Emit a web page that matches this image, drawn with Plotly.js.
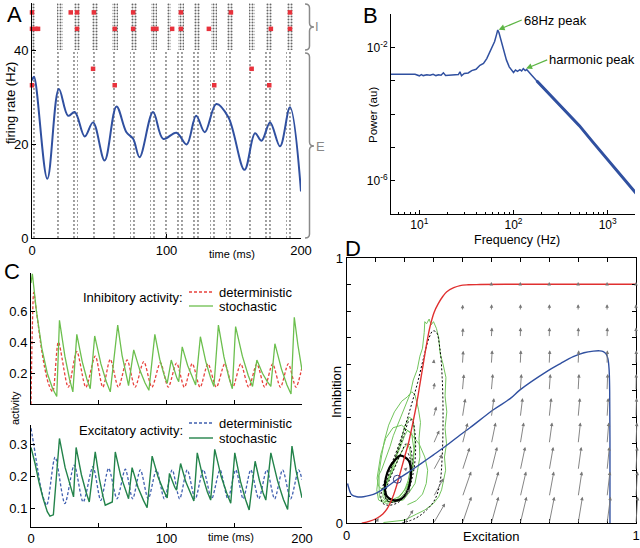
<!DOCTYPE html>
<html><head><meta charset="utf-8">
<script src="https://cdn.plot.ly/plotly-3.0.1.min.js"></script>
<style>html,body{margin:0;padding:0;background:#fff;}#chart{width:640px;height:548px;}</style>
</head><body><div id="chart"></div>
<script>
// ---------------- Panel A data ----------------
const rateTime = [0, 1.5, 11.4, 20, 26.8, 31.8, 39.2, 45.4, 54, 62.8, 70.2, 75.2, 80, 90, 97.5, 107.4, 115, 122, 128.5, 137, 146, 158, 165.8, 170.7, 177, 184.4, 191.8, 200];
const rateHz   = [33.5, 34.3, 12.6, 31.7, 26, 26.8, 21.6, 24.6, 16.5, 28, 22.5, 21.1, 17.2, 26.8, 21.1, 22.4, 19.9, 26, 22.5, 28.5, 25.7, 14.5, 22.3, 20.7, 24.6, 19.5, 27.8, 9.9];
const burstTimeE  = [1, 19.5, 32.5, 45.5, 61, 74.5, 89.5, 100.5, 110, 122, 134, 146.5, 162.5, 175.5, 191];
const burstWidthE = [2, 4, 4, 4, 4, 4, 4, 3, 4, 4, 4, 4, 4, 4, 4];
const burstTimeI  = [1, 20.5, 33.5, 46.5, 62, 75.5, 90.5, 101.5, 111, 123, 135, 147.5, 163.5, 176.5, 192];
const burstWidthI = [2.5, 4.5, 4.5, 4.5, 4.5, 4.5, 4.5, 3, 4.5, 4.5, 4.5, 4.5, 4.5, 4.5, 4.5];
const bandE = [0, 40];
const bandI = [40, 50];
const redSpikeTime = [0, 28.8, 33.5, 46, 75.2, 110.7, 147.9, 191.8,
                      0, 2.5, 4.5, 33.5, 61.5, 75.2, 90, 92.5, 104.2, 110.7, 131.5, 177.6, 191.8,
                      45.4, 163.3, 0, 61.5, 135.5, 176.4];
const redSpikeRate = [48, 48, 48, 48, 48, 48, 48, 48,
                      44.5, 44.5, 44.5, 44.5, 44.5, 44.5, 44.5, 44.5, 44.5, 44.5, 44.5, 44.5, 44.5,
                      36, 36, 32.5, 32.5, 32.5, 32.5];

// ---------------- Panel B data ----------------
const specFreq  = [5, 6, 7, 8, 9, 10, 10.5, 11, 12, 13, 14, 15, 16, 17, 18, 19, 20, 22, 24, 26, 27, 28, 30, 33, 36, 40, 44, 48, 52, 56, 60, 63, 66, 68, 70, 74, 78, 84, 90, 95, 100, 105, 110, 117, 122, 127, 133, 138, 145, 156, 176, 250, 350, 500, 700, 1000, 1400, 2000];
const specPower = [1.55e-3, 1.55e-3, 1.54e-3, 1.50e-3, 1.56e-3, 1.40e-3, 1.52e-3, 1.42e-3, 1.50e-3, 1.45e-3, 1.55e-3, 1.42e-3, 1.50e-3, 1.46e-3, 1.72e-3, 1.44e-3, 1.45e-3, 1.50e-3, 1.48e-3, 1.52e-3, 1.85e-3, 1.40e-3, 1.65e-3, 1.70e-3, 2.0e-3, 2.2e-3, 2.9e-3, 3.3e-3, 4.6e-3, 7.0e-3, 1.1e-2, 1.5e-2, 2.4e-2, 3.3e-2, 2.8e-2, 1.5e-2, 8.5e-3, 4.2e-3, 2.6e-3, 2.1e-3, 1.75e-3, 2.1e-3, 1.9e-3, 2.15e-3, 1.95e-3, 2.3e-3, 2.0e-3, 2.15e-3, 1.8e-3, 1.45e-3, 1.0e-3, 3.55e-4, 1.26e-4, 4.47e-5, 1.41e-5, 4.17e-6, 1.38e-6, 4.17e-7];

// ---------------- Panel C data ----------------
const inhStochT = [0, 1, 4, 8, 12, 16, 19, 21, 25, 28.4, 30.9, 33.8, 37.8, 41.2, 43.7, 47, 51.6, 55.6, 58.5, 64, 67.2, 70, 72, 75.8, 80.3, 84.2, 87, 91.4, 95, 98.2, 100.5, 103.5, 105.7, 107.6, 109, 111.6, 115.6, 119, 121.5, 125, 129, 132.5, 135, 138.3, 142.4, 146, 148.6, 151, 156, 160.4, 163.5, 166.7, 170.8, 174.4, 177, 180, 184.8, 188.9, 191.9, 194.3, 197, 200];
const inhStochV = [0.78, 0.84, 0.6, 0.36, 0.2, 0.1, 0.05, 0.54, 0.31, 0.163, 0.08, 0.45, 0.275, 0.163, 0.10, 0.44, 0.26, 0.145, 0.08, 0.51, 0.315, 0.19, 0.12, 0.35, 0.22, 0.137, 0.09, 0.45, 0.29, 0.19, 0.135, 0.285, 0.215, 0.17, 0.145, 0.37, 0.25, 0.17, 0.125, 0.435, 0.275, 0.173, 0.115, 0.51, 0.305, 0.174, 0.10, 0.50, 0.31, 0.184, 0.115, 0.285, 0.20, 0.146, 0.115, 0.39, 0.228, 0.124, 0.066, 0.56, 0.38, 0.22];
const inhDetT = [0, 1, 2, 4, 7, 10, 13, 16, 20.2, 27.5, 33.8, 40.5, 47.4, 53, 58.5, 64.5, 70.9, 76.8, 83.2, 89.2, 95.5, 101.3, 107.4, 113.2, 119, 124.8, 130.6, 136.8, 143, 148.9, 154.8, 160.7, 166.7, 172.5, 178.3, 184.1, 189.9, 195.5, 200];
const inhDetV = [0, 0.5, 0.72, 0.6, 0.4, 0.24, 0.13, 0.08, 0.40, 0.11, 0.34, 0.11, 0.31, 0.11, 0.29, 0.11, 0.285, 0.11, 0.275, 0.11, 0.268, 0.11, 0.265, 0.11, 0.262, 0.11, 0.26, 0.11, 0.26, 0.11, 0.26, 0.11, 0.26, 0.11, 0.26, 0.11, 0.26, 0.11, 0.24];
const excStochT = [0, 3, 6, 9, 12, 14, 16.5, 21, 25.2, 28.8, 31.4, 33.3, 37.2, 40.6, 43, 47.4, 50.4, 53, 54.8, 60, 62.2, 66.1, 69.6, 72, 74.6, 79, 83, 85.7, 89.4, 93.8, 97.7, 100.5, 102.2, 104.3, 106.1, 107.4, 110.4, 114.3, 117.8, 120.2, 122.7, 126.7, 130.1, 132.6, 135.6, 140.3, 144.5, 147.4, 150.4, 154.6, 158.4, 161, 165.4, 168.6, 171.3, 173.3, 177, 182, 186.3, 189.4, 192.6, 195.5, 200];
const excStochV = [0.29, 0.24, 0.18, 0.13, 0.09, 0.076, 0.08, 0.318, 0.227, 0.169, 0.136, 0.29, 0.205, 0.151, 0.12, 0.276, 0.193, 0.14, 0.11, 0.12, 0.276, 0.203, 0.156, 0.13, 0.227, 0.165, 0.125, 0.102, 0.263, 0.198, 0.157, 0.133, 0.209, 0.183, 0.166, 0.157, 0.24, 0.182, 0.144, 0.123, 0.273, 0.20, 0.152, 0.126, 0.284, 0.20, 0.147, 0.116, 0.273, 0.184, 0.127, 0.095, 0.247, 0.187, 0.148, 0.126, 0.273, 0.185, 0.128, 0.097, 0.294, 0.22, 0.133];
const excDetT = [0, 2, 5, 8, 11.6, 17.8, 25, 31.9, 38.5, 45.7, 51.5, 57.3, 63.5, 69.6, 75, 80.7, 86.5, 92.6, 98.4, 104.2, 109.7, 115.3, 121.2, 127.2, 133.3, 139.5, 145.3, 151.1, 156.6, 162.2, 168.1, 174, 179.8, 185.7, 191.6, 197.5, 200];
const excDetV = [0.35, 0.3, 0.22, 0.15, 0.11, 0.26, 0.115, 0.235, 0.12, 0.23, 0.125, 0.225, 0.13, 0.222, 0.13, 0.22, 0.13, 0.22, 0.13, 0.22, 0.13, 0.22, 0.13, 0.22, 0.13, 0.22, 0.13, 0.22, 0.13, 0.22, 0.13, 0.22, 0.13, 0.22, 0.13, 0.22, 0.19];

// ---------------- Panel D data ----------------
const redNullX = [0.052, 0.08, 0.104, 0.125, 0.14, 0.152, 0.163, 0.172, 0.18, 0.19, 0.2, 0.213, 0.228, 0.242, 0.254, 0.265, 0.277, 0.288, 0.302, 0.317, 0.332, 0.346, 0.37, 0.392, 0.42, 0.461, 0.55, 1.0];
const redNullY = [0.0, 0.008, 0.019, 0.035, 0.055, 0.08, 0.11, 0.14, 0.17, 0.21, 0.25, 0.30, 0.375, 0.452, 0.53, 0.603, 0.68, 0.741, 0.795, 0.829, 0.855, 0.873, 0.888, 0.896, 0.899, 0.9, 0.901, 0.901];
const blueNullX = [0.003, 0.008, 0.017, 0.035, 0.058, 0.08, 0.104, 0.14, 0.175, 0.21, 0.253, 0.3, 0.346, 0.392, 0.426, 0.507, 0.565, 0.599, 0.691, 0.74, 0.783, 0.82, 0.853, 0.875, 0.887, 0.897, 0.903, 0.907, 0.909, 0.91, 0.91];
const blueNullY = [0.15, 0.13, 0.108, 0.1, 0.1, 0.105, 0.115, 0.138, 0.166, 0.19, 0.222, 0.258, 0.294, 0.333, 0.36, 0.428, 0.47, 0.503, 0.572, 0.603, 0.628, 0.643, 0.649, 0.65, 0.647, 0.638, 0.62, 0.58, 0.5, 0.3, 0.0];
const gridX = [0.1, 0.2, 0.3, 0.4, 0.5, 0.6, 0.7, 0.8, 0.9, 1.0];
const gridY = [0, 0.1, 0.2, 0.3, 0.4, 0.5, 0.6, 0.7, 0.8, 0.9];
const fieldU = [
  [0.01, 0.03, 0.04, 0.031, 0.025, 0.022, 0.018, 0.015, 0.012, 0.006],
  [0.005, 0.02, 0.035, 0.03, 0.025, 0.02, 0.016, 0.013, 0.01, 0.005],
  [0.0, 0.01, 0.03, 0.025, 0.02, 0.017, 0.014, 0.011, 0.008, 0.004],
  [0.0, 0.0, 0.02, 0.018, 0.015, 0.012, 0.01, 0.008, 0.006, 0.003],
  [0.0, 0.0, 0.01, 0.01, 0.009, 0.008, 0.007, 0.006, 0.004, 0.002],
  [0.0, 0.0, 0.004, 0.005, 0.005, 0.004, 0.004, 0.003, 0.002, 0.001],
  [0.0, 0.0, 0.002, 0.003, 0.003, 0.002, 0.002, 0.002, 0.001, 0.001],
  [0.0, 0.0, 0.0, 0.002, 0.002, 0.001, 0.001, 0.001, 0.001, 0.0],
  [0.0, 0.0, 0.0, 0.001, 0.001, 0.001, 0.001, 0.0, 0.0, 0.0],
  [0.0, 0.0, 0.0, 0.0, 0.0, 0.0, 0.0, 0.0, 0.0, 0.0]];
const fieldV = [
  [0.02, 0.05, 0.075, 0.1, 0.1, 0.1, 0.1, 0.1, 0.1, 0.1],
  [0.005, 0.03, 0.07, 0.095, 0.095, 0.095, 0.095, 0.095, 0.095, 0.095],
  [-0.005, 0.01, 0.06, 0.085, 0.088, 0.088, 0.088, 0.088, 0.088, 0.088],
  [-0.005, 0.005, 0.05, 0.078, 0.08, 0.08, 0.08, 0.08, 0.08, 0.08],
  [-0.006, 0.003, 0.04, 0.07, 0.072, 0.072, 0.072, 0.072, 0.072, 0.072],
  [-0.006, -0.004, 0.03, 0.062, 0.063, 0.063, 0.063, 0.063, 0.063, 0.063],
  [-0.006, -0.005, 0.018, 0.05, 0.052, 0.052, 0.052, 0.052, 0.052, 0.052],
  [-0.006, -0.006, 0.008, 0.036, 0.038, 0.038, 0.038, 0.038, 0.038, 0.038],
  [-0.006, -0.006, -0.004, 0.024, 0.026, 0.026, 0.026, 0.026, 0.026, 0.026],
  [-0.005, -0.005, -0.005, 0.008, 0.01, 0.01, 0.01, 0.01, 0.01, 0.01]];
const stochE = [0.127,0.16,0.2,0.242,0.27,0.3,0.318,0.328,0.335,0.342,0.338,0.345,0.34,0.346,0.34,0.343,0.333,0.323,0.318,0.31,0.3,0.292,0.285,0.276,0.27,0.268,0.262,0.253,0.244,0.23,0.22,0.205,0.196,0.18,0.161,0.15,0.132,0.12,0.11,0.107,0.104,0.108,0.11,0.125,0.138,0.165,0.196,0.215,0.236,0.245,0.253,0.25,0.255,0.248,0.242,0.236,0.225,0.21,0.19,0.165,0.145,0.13,0.12,0.112,0.112,0.113,0.12,0.132,0.15,0.173,0.19,0.207,0.22,0.23,0.232,0.236,0.233,0.23,0.216,0.208,0.2,0.19,0.178,0.163,0.15,0.135,0.127,0.125,0.132,0.15,0.167,0.185,0.2,0.215,0.225,0.228,0.233,0.228,0.225,0.21,0.2,0.19,0.175,0.161,0.148,0.138,0.13,0.132,0.14,0.16,0.18,0.2,0.212,0.22,0.222,0.218,0.21,0.198,0.185,0.172,0.16,0.148,0.135,0.12,0.11,0.105,0.11,0.118,0.135,0.16,0.19,0.22,0.25,0.27,0.28,0.275,0.262,0.24,0.21];
const stochI = [0.003,0.008,0.012,0.035,0.05,0.075,0.1,0.126,0.16,0.2,0.25,0.3,0.36,0.42,0.48,0.55,0.6,0.64,0.7,0.735,0.76,0.748,0.77,0.752,0.76,0.72,0.66,0.63,0.58,0.54,0.49,0.45,0.43,0.38,0.33,0.29,0.24,0.2,0.18,0.15,0.126,0.1,0.088,0.08,0.075,0.082,0.088,0.115,0.15,0.2,0.25,0.32,0.38,0.43,0.46,0.484,0.496,0.477,0.46,0.42,0.37,0.31,0.25,0.19,0.14,0.1,0.09,0.082,0.083,0.088,0.11,0.138,0.17,0.214,0.26,0.30,0.35,0.39,0.40,0.38,0.364,0.32,0.276,0.23,0.188,0.15,0.126,0.1,0.088,0.08,0.082,0.095,0.113,0.15,0.19,0.23,0.276,0.31,0.34,0.35,0.33,0.30,0.26,0.214,0.18,0.15,0.12,0.1,0.09,0.09,0.1,0.125,0.16,0.2,0.25,0.28,0.3,0.285,0.26,0.23,0.2,0.17,0.14,0.13,0.14,0.17,0.21,0.26,0.32,0.36,0.37,0.34,0.3,0.25,0.2,0.15,0.11,0.085,0.07];
const detE = [0.19,0.24,0.276,0.305,0.322,0.33,0.333,0.33,0.322,0.31,0.298,0.285,0.265,0.245,0.222,0.2,0.175,0.15,0.128,0.118,0.125,0.145,0.18,0.21,0.23,0.238,0.235,0.226,0.215,0.2,0.18,0.158,0.138,0.13,0.14,0.165,0.195,0.215,0.225,0.225,0.215,0.205,0.19,0.17,0.15,0.137,0.135,0.145,0.17,0.2,0.218,0.224,0.22,0.21];
const detI = [0.0,0.02,0.05,0.09,0.15,0.25,0.4,0.55,0.66,0.72,0.725,0.7,0.62,0.53,0.44,0.36,0.28,0.21,0.15,0.1,0.075,0.068,0.08,0.12,0.19,0.27,0.35,0.39,0.385,0.34,0.28,0.22,0.16,0.115,0.085,0.08,0.1,0.14,0.2,0.26,0.3,0.3,0.27,0.22,0.17,0.13,0.1,0.083,0.082,0.1,0.14,0.19,0.24,0.27];
const cycleE = [0.2, 0.215, 0.222, 0.218, 0.205, 0.185, 0.16, 0.14, 0.132, 0.135, 0.148, 0.168, 0.185, 0.2];
const cycleI = [0.25, 0.235, 0.2, 0.15, 0.11, 0.09, 0.088, 0.1, 0.13, 0.17, 0.21, 0.24, 0.255, 0.25];
const fixedPointE = [0.175];
const fixedPointI = [0.166];

// ---------------- helpers ----------------
const FONT = 'Liberation Sans, Arial, sans-serif';
const W = 640, H = 548;
const PX = x => x / W;
const PY = y => 1 - y / H;

const baseAxis = {
  showline: true, linecolor: '#000', linewidth: 1, ticks: 'inside', ticklen: 4,
  tickcolor: '#000', showgrid: false, zeroline: false,
  tickfont: {family: FONT, size: 13, color: '#000'}
};
function ax(extra) { return Object.assign({}, baseAxis, extra); }

const traces = [];
// Panel A raster (bands of spikes)
traces.push({type: 'bar', x: burstTimeE, y: burstTimeE.map(() => bandE[1] - bandE[0]), base: bandE[0],
  width: burstWidthE, xaxis: 'x', yaxis: 'y', hoverinfo: 'skip',
  marker: {color: 'rgba(0,0,0,0)', line: {width: 0, color: 'rgba(0,0,0,0)'},
    pattern: {shape: '.', fgcolor: '#7a7a7a', bgcolor: 'rgba(0,0,0,0)', size: 4, solidity: 0.18, fillmode: 'replace'}}});
traces.push({type: 'bar', x: burstTimeI, y: burstTimeI.map(() => bandI[1] - bandI[0]), base: bandI[0],
  width: burstWidthI, xaxis: 'x', yaxis: 'y', hoverinfo: 'skip',
  marker: {color: 'rgba(0,0,0,0)', line: {width: 0, color: 'rgba(0,0,0,0)'},
    pattern: {shape: '.', fgcolor: '#666', bgcolor: 'rgba(0,0,0,0)', size: 3, solidity: 0.35, fillmode: 'replace'}}});
traces.push({type: 'scatter', mode: 'lines', x: rateTime, y: rateHz, xaxis: 'x', yaxis: 'y',
  line: {color: '#3050a0', width: 2, shape: 'spline', smoothing: 1}});
traces.push({type: 'scatter', mode: 'markers', x: redSpikeTime, y: redSpikeRate, xaxis: 'x', yaxis: 'y', cliponaxis: false,
  marker: {color: '#e8323c', size: 4.5, symbol: 'square'}});

// Panel B spectrum
traces.push({type: 'scatter', mode: 'lines', x: specFreq, y: specPower, xaxis: 'x2', yaxis: 'y2',
  line: {color: '#3050a0', width: 1.5}});
const hiIdx = specFreq.map((f, i) => i).filter(i => specFreq[i] >= 176);
traces.push({type: 'scatter', mode: 'lines', x: hiIdx.map(i => specFreq[i]), y: hiIdx.map(i => specPower[i]),
  xaxis: 'x2', yaxis: 'y2', line: {color: '#3050a0', width: 3}});

// Panel C
traces.push({type: 'scatter', mode: 'lines', x: inhDetT, y: inhDetV, xaxis: 'x3', yaxis: 'y3',
  line: {color: '#e8413c', width: 1.3, dash: '3px,2px', shape: 'spline', smoothing: 0.8}});
traces.push({type: 'scatter', mode: 'lines', x: inhStochT, y: inhStochV, xaxis: 'x3', yaxis: 'y3',
  line: {color: '#6cbf4e', width: 1.3}});
traces.push({type: 'scatter', mode: 'lines', x: excDetT, y: excDetV, xaxis: 'x4', yaxis: 'y4',
  line: {color: '#4060b0', width: 1.3, dash: '3px,2px', shape: 'spline', smoothing: 0.8}});
traces.push({type: 'scatter', mode: 'lines', x: excStochT, y: excStochV, xaxis: 'x4', yaxis: 'y4',
  line: {color: '#23834a', width: 1.4}});

// Panel D
traces.push({type: 'scatter', mode: 'lines', x: stochE, y: stochI, xaxis: 'x5', yaxis: 'y5',
  line: {color: '#72c45c', width: 1}});
traces.push({type: 'scatter', mode: 'lines', x: detE, y: detI, xaxis: 'x5', yaxis: 'y5',
  line: {color: '#000', width: 1, dash: '2px,2px', shape: 'spline'}});
traces.push({type: 'scatter', mode: 'lines', x: cycleE, y: cycleI, xaxis: 'x5', yaxis: 'y5',
  line: {color: '#000', width: 2.2, shape: 'spline'}});
traces.push({type: 'scatter', mode: 'lines', x: redNullX, y: redNullY, xaxis: 'x5', yaxis: 'y5',
  line: {color: '#e03030', width: 1.4, shape: 'spline'}});
traces.push({type: 'scatter', mode: 'lines', x: blueNullX, y: blueNullY, xaxis: 'x5', yaxis: 'y5',
  line: {color: '#3050a0', width: 1.4, shape: 'spline'}});
traces.push({type: 'scatter', mode: 'markers', x: fixedPointE, y: fixedPointI, xaxis: 'x5', yaxis: 'y5',
  marker: {symbol: 'circle-open', size: 8, color: '#333a80', line: {width: 1}}});

// ---------------- annotations ----------------
const annotations = [];
function txt(text, x, y, size, opts) {
  annotations.push(Object.assign({text: text, x: PX(x), y: PY(y), xref: 'paper', yref: 'paper',
    showarrow: false, font: {family: FONT, size: size, color: '#000'}, xanchor: 'center', yanchor: 'middle'}, opts || {}));
}
txt('A', 14, 14, 22); txt('B', 370, 16, 22); txt('C', 12, 271, 22); txt('D', 353, 248, 22);
txt('firing rate (Hz)', 10, 103, 13, {textangle: -90});
txt('time (ms)', 232, 254, 11);
txt('I', 317, 27, 13, {font: {family: FONT, size: 13, color: '#888'}});
txt('E', 320, 146, 13, {font: {family: FONT, size: 13, color: '#888'}});
txt('Power (au)', 373, 115, 11.5, {textangle: -90});
txt('Frequency (Hz)', 517, 240, 12.5);
txt('Inhibitory activity:', 185, 298, 13, {xanchor: 'right'});
txt('deterministic', 217, 292, 13, {xanchor: 'left'});
txt('stochastic', 217, 306, 13, {xanchor: 'left'});
txt('Excitatory activity:', 185, 430, 13, {xanchor: 'right'});
txt('deterministic', 217, 423, 13, {xanchor: 'left'});
txt('stochastic', 217, 438, 13, {xanchor: 'left'});
txt('activity', 15, 408, 11, {textangle: -90});
txt('time (ms)', 231, 537, 11);
txt('Inhibition', 336, 392, 13, {textangle: -90});
txt('Excitation', 491, 536, 13);

// B peak arrows
annotations.push({text: '68Hz peak', x: Math.log10(68), y: Math.log10(3.3e-2), xref: 'x2', yref: 'y2',
  showarrow: true, ax: 24, ay: -10, xanchor: 'left', yanchor: 'middle', arrowhead: 2, arrowsize: 1, arrowwidth: 1.2,
  arrowcolor: '#5db544', standoff: 1, font: {family: FONT, size: 13, color: '#000'}});
annotations.push({text: 'harmonic peak', x: Math.log10(133), y: Math.log10(2.25e-3), xref: 'x2', yref: 'y2',
  showarrow: true, ax: 22, ay: -9, xanchor: 'left', yanchor: 'middle', arrowhead: 2, arrowsize: 1, arrowwidth: 1.2,
  arrowcolor: '#5db544', standoff: 1, font: {family: FONT, size: 13, color: '#000'}});

// D vector field arrows
gridY.forEach((gy, r) => {
  gridX.forEach((gx, c) => {
    annotations.push({text: '', xref: 'x5', yref: 'y5', axref: 'x5', ayref: 'y5',
      x: gx + fieldU[r][c], y: gy + fieldV[r][c], ax: gx, ay: gy,
      showarrow: true, arrowhead: 2, arrowsize: 0.8, arrowwidth: 0.9, arrowcolor: '#777'});
  });
});

// ---------------- shapes (braces, legend samples) ----------------
function brace(xe, xs, xt, yTop, yMid, yBot) {
  const r = 4;
  return {type: 'path', xref: 'paper', yref: 'paper', line: {color: '#8a8a8a', width: 1.5},
    path: `M ${PX(xe)},${PY(yTop)} Q ${PX(xs)},${PY(yTop)} ${PX(xs)},${PY(yTop + r)} L ${PX(xs)},${PY(yMid - r)} ` +
          `Q ${PX(xs)},${PY(yMid)} ${PX(xt)},${PY(yMid)} Q ${PX(xs)},${PY(yMid)} ${PX(xs)},${PY(yMid + r)} ` +
          `L ${PX(xs)},${PY(yBot - r)} Q ${PX(xs)},${PY(yBot)} ${PX(xe)},${PY(yBot)}`};
}
function legLine(y, color, dash, width) {
  return {type: 'line', xref: 'paper', yref: 'paper', x0: PX(189), x1: PX(213), y0: PY(y), y1: PY(y),
    line: {color: color, width: width, dash: dash}};
}
const shapes = [
  brace(305, 309.5, 314, 4, 27, 50),
  brace(305, 309.5, 314, 53, 146, 238),
  legLine(292, '#e8413c', '3px,2px', 1.3),
  legLine(306, '#6cbf4e', 'solid', 1.3),
  legLine(423, '#4060b0', '3px,2px', 1.3),
  legLine(438, '#23834a', 'solid', 1.4)
];

const decades = [1e-7, 1e-6, 1e-5, 1e-4, 1e-3, 1e-2, 1e-1];
const layout = {
  width: W, height: H, margin: {l: 0, r: 0, t: 0, b: 0}, showlegend: false, hovermode: false,
  paper_bgcolor: '#fff', plot_bgcolor: 'rgba(0,0,0,0)', barmode: 'overlay', bargap: 0,
  font: {family: FONT, size: 13, color: '#000'},
  xaxis: ax({domain: [PX(32), PX(301)], range: [0, 200], tickvals: [0, 100, 200], anchor: 'y'}),
  yaxis: ax({domain: [PY(238), PY(3)], range: [0, 50], tickvals: [0, 20, 40], anchor: 'x'}),
  xaxis2: ax({domain: [PX(391), PX(635)], type: 'log', range: [0.699, 3.29], anchor: 'y2',
    tickvals: [10, 100, 1000], ticktext: ['10<sup>1</sup>', '10<sup>2</sup>', '10<sup>3</sup>'],
    tickfont: {family: FONT, size: 12, color: '#000'},
    minor: {ticks: 'inside', ticklen: 2, tickcolor: '#000',
      tickvals: [6, 7, 8, 9, 20, 30, 40, 50, 60, 70, 80, 90, 200, 300, 400, 500, 600, 700, 800, 900]}}),
  yaxis2: ax({domain: [PY(214), PY(14)], type: 'log', range: [-7, -1], anchor: 'x2',
    tickfont: {family: FONT, size: 12, color: '#000'},
    tickvals: decades, ticktext: ['', '10<sup>-6</sup>', '', '', '', '10<sup>-2</sup>', '']}),
  xaxis3: ax({domain: [PX(31), PX(302)], range: [0, 200], tickvals: [0, 50, 100, 150, 200], showticklabels: false, anchor: 'y3'}),
  yaxis3: ax({domain: [PY(404.3), PY(273)], range: [0, 0.845], tickvals: [0.2, 0.4, 0.6], anchor: 'x3'}),
  xaxis4: ax({domain: [PX(31), PX(302)], range: [0, 200], tickvals: [0, 50, 100, 150, 200],
    ticktext: ['0', '', '100', '', '200'], anchor: 'y4'}),
  yaxis4: ax({domain: [PY(526.7), PY(425)], range: [0.043, 0.36], tickvals: [0.1, 0.2, 0.3], anchor: 'x4'}),
  xaxis5: ax({domain: [PX(346.7), PX(636)], range: [0, 1], mirror: 'ticks', anchor: 'y5',
    tickvals: [0, 0.1, 0.2, 0.3, 0.4, 0.5, 0.6, 0.7, 0.8, 0.9, 1], ticktext: ['0', '', '', '', '', '', '', '', '', '', '1']}),
  yaxis5: ax({domain: [PY(523.3), PY(258)], range: [0, 1], mirror: 'ticks', anchor: 'x5',
    tickvals: [0, 0.1, 0.2, 0.3, 0.4, 0.5, 0.6, 0.7, 0.8, 0.9, 1], ticktext: ['0', '', '', '', '', '', '', '', '', '', '1']}),
  annotations: annotations,
  shapes: shapes
};
Plotly.newPlot('chart', traces, layout, {displayModeBar: false, staticPlot: true});
</script>
</body></html>
